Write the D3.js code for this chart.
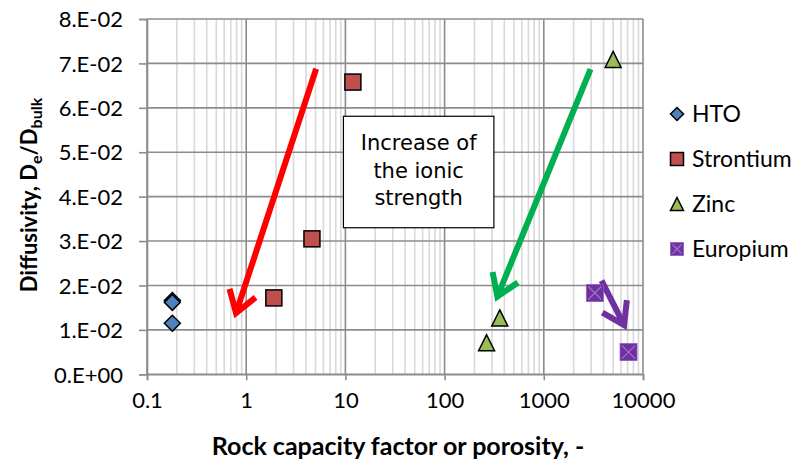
<!DOCTYPE html>
<html><head><meta charset="utf-8">
<script src="https://cdn.jsdelivr.net/npm/d3@7/dist/d3.min.js"></script>
<style>body{margin:0;background:#fff}svg{display:block}text{font-family:Lato,"Open Sans",sans-serif}</style>
</head><body><svg id="c" width="796" height="462"></svg>
<script>
const xTicks = [0.1, 1, 10, 100, 1000, 10000];
const xTickLabels = ["0.1", "1", "10", "100", "1000", "10000"];
const yTicks = [0, 0.01, 0.02, 0.03, 0.04, 0.05, 0.06, 0.07, 0.08];
const yTickLabels = ["0.E+00","1.E-02","2.E-02","3.E-02","4.E-02","5.E-02","6.E-02","7.E-02","8.E-02"];
const seriesNames = ["HTO", "Strontium", "Zinc", "Europium"];
const htoX = [0.18, 0.18, 0.18];
const htoY = [0.0166, 0.0162, 0.0115];
const srX = [1.9, 4.6, 11.9];
const srY = [0.0172, 0.0305, 0.0658];
const znX = [265, 360, 5000];
const znY = [0.0071, 0.0127, 0.0709];
const euX = [3270, 7150];
const euY = [0.0183, 0.0050];
// annotation arrows in data units: [x1, y1, x2, y2]
const arrowNames = ["red", "green", "purple"];
const arrowCoords = [[5.07, 0.0688, 0.79, 0.0138], [2960, 0.0687, 340, 0.0175], [3820, 0.0211, 6450, 0.0111]];
const boxText = ["Increase of", "the ionic", "strength"];
const boxCorners = [9.55, 0.0581, 314, 0.0330];

const svg = d3.select("#c");
const L = 147, R = 643, T = 19, B = 374.3;
const x = d3.scaleLog().domain([0.1, 10000]).range([L, R]);
const y = d3.scaleLinear().domain([0, 0.08]).range([B, T]);

// minor grid
const minor = [];
for (let d = -1; d < 4; d++) for (let k = 2; k <= 9; k++) minor.push(k * Math.pow(10, d));
svg.append("g").selectAll("line").data(minor).join("line")
  .attr("x1", d => x(d)).attr("x2", d => x(d)).attr("y1", T).attr("y2", B)
  .attr("stroke", "#d9d9d9").attr("stroke-width", 1.6);
// major grid
svg.append("g").selectAll("line").data(xTicks).join("line")
  .attr("x1", d => x(d)).attr("x2", d => x(d)).attr("y1", T).attr("y2", B)
  .attr("stroke", "#8c8c8c").attr("stroke-width", 1.6);
svg.append("g").selectAll("line").data(yTicks).join("line")
  .attr("x1", L).attr("x2", R).attr("y1", d => y(d)).attr("y2", d => y(d))
  .attr("stroke", "#8c8c8c").attr("stroke-width", 1.6);

// axes
const xa = svg.append("g").attr("transform", `translate(0,${B})`)
  .call(d3.axisBottom(x).tickValues(xTicks).tickFormat((d, i) => xTickLabels[i]).tickSize(6).tickPadding(12));
const ya = svg.append("g").attr("transform", `translate(${L},0)`)
  .call(d3.axisLeft(y).tickValues(yTicks).tickFormat((d, i) => yTickLabels[i]).tickSize(8).tickPadding(16));
[xa, ya].forEach(a => {
  a.select(".domain").attr("stroke", "#8c8c8c").attr("stroke-width", 1.6);
  a.selectAll(".tick line").attr("stroke", "#8c8c8c").attr("stroke-width", 1.6);
  a.selectAll("text").attr("fill", "#000").style("font-size", "22px").style("font-family", "Lato");
});
ya.selectAll("text").attr("dy", "0.35em");

// axis titles
svg.append("text").attr("x", 398).attr("y", 455).attr("text-anchor", "middle")
  .style("font-size", "25px").style("font-weight", "bold").text("Rock capacity factor or porosity, -");
const yt = svg.append("text").attr("transform", "translate(37,195) rotate(-90)").attr("text-anchor", "middle")
  .style("font-size", "22px").style("font-weight", "bold");
yt.append("tspan").text("Diffusivity, D");
yt.append("tspan").attr("dy", 5).style("font-size", "16px").text("e");
yt.append("tspan").attr("dy", -5).text("/D");
yt.append("tspan").attr("dy", 5).style("font-size", "16px").text("bulk");

// annotation box
const bx = x(boxCorners[0]), by = y(boxCorners[1]), bw = x(boxCorners[2]) - bx, bh = y(boxCorners[3]) - by;
svg.append("rect").attr("x", bx).attr("y", by).attr("width", bw).attr("height", bh)
  .attr("fill", "#fff").attr("stroke", "#000").attr("stroke-width", 1.2);
svg.append("g").selectAll("text").data(boxText).join("text")
  .attr("x", bx + bw / 2).attr("y", (d, i) => by + 34 + i * 27.5).attr("text-anchor", "middle")
  .style("font-family", "'DejaVu Sans'").style("font-size", "21px").text(d => d);

// arrows
const arrowColors = { red: "#ff0000", green: "#00b050", purple: "#7030a0" };
arrowCoords.forEach((a, i) => {
  const c = arrowColors[arrowNames[i]];
  const x1 = x(a[0]), y1 = y(a[1]), x2 = x(a[2]), y2 = y(a[3]);
  const ang = Math.atan2(y2 - y1, x2 - x1);
  const hl = 25, spread = 0.58;
  const g = svg.append("g").attr("stroke", c).attr("stroke-width", 6).attr("fill", "none")
    .attr("stroke-linejoin", "miter").attr("stroke-linecap", "butt");
  g.append("line").attr("x1", x1).attr("y1", y1).attr("x2", x2 - 3 * Math.cos(ang)).attr("y2", y2 - 3 * Math.sin(ang));
  g.append("path").attr("d", d3.line()([
    [x2 - hl * Math.cos(ang - spread), y2 - hl * Math.sin(ang - spread)],
    [x2, y2],
    [x2 - hl * Math.cos(ang + spread), y2 - hl * Math.sin(ang + spread)]]));
});

// markers
function drawMarker(g, type, cx, cy, s) {
  if (type === "HTO") {
    g.append("path").attr("d", `M${cx},${cy - s / 2}L${cx + s / 2},${cy}L${cx},${cy + s / 2}L${cx - s / 2},${cy}Z`)
      .attr("fill", "#4f81bd").attr("stroke", "#000").attr("stroke-width", 1.5);
  } else if (type === "Strontium") {
    g.append("rect").attr("x", cx - s / 2).attr("y", cy - s / 2).attr("width", s).attr("height", s)
      .attr("fill", "#c0504d").attr("stroke", "#000").attr("stroke-width", 1.5);
  } else if (type === "Zinc") {
    g.append("path").attr("d", `M${cx},${cy - s / 2}L${cx + s / 2},${cy + s / 2}L${cx - s / 2},${cy + s / 2}Z`)
      .attr("fill", "#9bbb59").attr("stroke", "#000").attr("stroke-width", 1.5);
  } else {
    g.append("rect").attr("x", cx - s / 2).attr("y", cy - s / 2).attr("width", s).attr("height", s)
      .attr("fill", "#7030a0").attr("stroke", "#8c5cc0").attr("stroke-width", 0.8);
    g.append("path").attr("d", `M${cx - s / 2 + 2},${cy - s / 2 + 2}L${cx + s / 2 - 2},${cy + s / 2 - 2}M${cx + s / 2 - 2},${cy - s / 2 + 2}L${cx - s / 2 + 2},${cy + s / 2 - 2}`)
      .attr("stroke", "#9a74c4").attr("stroke-width", 1.2);
  }
}
const series = [[htoX, htoY], [srX, srY], [znX, znY], [euX, euY]];
const sizes = [16, 16, 16, 17];
const mg = svg.append("g");
series.forEach((s, i) => s[0].forEach((xv, j) => drawMarker(mg, seriesNames[i], x(xv), y(s[1][j]), sizes[i])));

// legend
const lg = svg.append("g");
seriesNames.forEach((n, i) => {
  const ly = 114 + i * 45;
  drawMarker(lg, n, 677, ly, 13);
  lg.append("text").attr("x", 692).attr("y", ly).attr("dy", "0.35em").style("font-size", "23px").text(n);
});
</script></body></html>
